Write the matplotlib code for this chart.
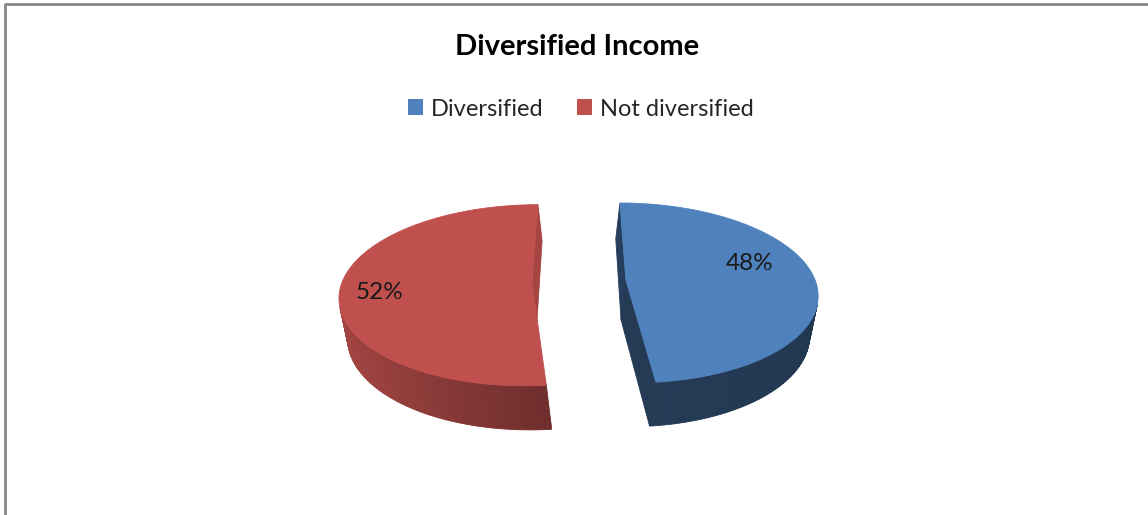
import numpy as np
import matplotlib
matplotlib.use('Agg')
import matplotlib.pyplot as plt
from matplotlib.patches import Polygon, Patch
from matplotlib.lines import Line2D

# data
categories = ['Diversified', 'Not diversified']
shares = [48.4, 51.6]
top_colors = ['#4F81BD', '#C0504D']
title = 'Diversified Income'

# look of the 3d pie (perspective camera)
R = 189.5            # px per radius at the pie centre
D = 6.12             # camera distance in radii
F = R * D
xc, yc = 579.0, 281.0
sinphi = 0.466
cosphi = np.sqrt(1 - sinphi ** 2)
h = 0.241            # thickness (radius units)
explode = 0.248
shear_k = 0.09
side_base = [0.46, 0.60]
side_slope = [0.04, 0.27]
wall_shade = [[0.48, 0.45], [0.86, 0.86]]
label_r = [0.675, 0.795]
label_dtheta = [-6.6, -10.4]

plt.rcParams['font.family'] = ['Lato', 'DejaVu Sans']

fig = plt.figure(figsize=(11.48, 5.15), dpi=100)
ax = fig.add_axes([0, 0, 1, 1])
ax.set_xlim(0, 1148)
ax.set_ylim(515, 0)
ax.axis('off')


def shade(color, f):
    rgb = np.array(matplotlib.colors.to_rgb(color))
    return tuple(np.clip(rgb * f, 0, 1))


def signed_area(pts):
    x = pts[:, 0]
    y = pts[:, 1]
    return 0.5 * np.sum(x * np.roll(y, -1) - np.roll(x, -1) * y)


def to_px(q):
    return np.column_stack([xc + q[:, 0], yc - q[:, 1]])


fracs = np.array(shares, dtype=float) / sum(shares)
edges = np.concatenate([[0], np.cumsum(fracs) * 360])

for i, col in enumerate(top_colors):
    ta, tb = edges[i], edges[i + 1]
    tm = np.radians((ta + tb) / 2)
    ox, oy = explode * np.sin(tm), explode * np.cos(tm)
    shear = -shear_k * np.sin(tm)

    def proj(X, Y, Z):
        Xa = X + ox + (h - Z) * shear
        Ya = Y + oy
        d = D + Ya * cosphi - (Z - h) * sinphi
        return np.array([Xa * F / d, (Ya * sinphi + (Z - h) * cosphi) * F / d])

    def rim(t, Z):
        t = np.radians(t)
        return proj(np.sin(t), np.cos(t), Z)

    faces = []
    # outer curved wall
    ts = np.linspace(ta, tb, int(tb - ta) + 2)
    for t1, t2 in zip(ts[:-1], ts[1:]):
        q = np.array([rim(t1, h), rim(t2, h), rim(t2, 0), rim(t1, 0)])
        if signed_area(q) > 0:
            tmid = np.radians((t1 + t2) / 2)
            f = side_base[i] + side_slope[i] * (-np.sin(tmid))
            faces.append((np.cos(tmid), q, shade(col, f)))
    # radial walls
    c_top, c_bot = proj(0, 0, h), proj(0, 0, 0)
    qa = np.array([c_top, rim(ta, h), rim(ta, 0), c_bot])
    qb = np.array([c_top, c_bot, rim(tb, 0), rim(tb, h)])
    for q, t, f in [(qa, ta, wall_shade[i][0]), (qb, tb, wall_shade[i][1])]:
        if signed_area(q) > 0:
            faces.append((np.cos(np.radians(t)) / 2, q, shade(col, f)))

    faces.sort(key=lambda x: -x[0])
    for _, q, c in faces:
        ax.add_patch(Polygon(to_px(q), closed=True, facecolor=c, edgecolor=c, lw=0.6))

    # top face
    tt = np.linspace(tb, ta, 240)
    top = np.array([c_top] + [rim(t, h) for t in tt])
    ax.add_patch(Polygon(to_px(top), closed=True, facecolor=col, edgecolor=col, lw=0.6))

    # percentage label
    tl = np.radians((ta + tb) / 2 + label_dtheta[i])
    lp = to_px(proj(label_r[i] * np.sin(tl), label_r[i] * np.cos(tl), h)[None, :])[0]
    ax.text(lp[0], lp[1], f'{shares[i]:.0f}%', fontsize=17.5,
            color='#1a1a1a', ha='center', va='baseline')

# title + legend
fig.text(577 / 1148, 1 - 55 / 515, title, fontsize=21, fontweight='bold',
         color='black', ha='center', va='baseline')
handles = [Patch(facecolor=c, edgecolor='none') for c in top_colors]
fig.legend(handles, categories, loc='center', ncol=2, frameon=False,
           bbox_to_anchor=(581 / 1148, 1 - 109 / 515), fontsize=17,
           handlelength=0.64, handleheight=0.64, handletextpad=0.34,
           columnspacing=1.4, labelcolor='#262626')

# chart border (top and left visible)
fig.add_artist(Line2D([5 / 1148, 5 / 1148, 1], [0, 1 - 4 / 515, 1 - 4 / 515],
                      transform=fig.transFigure, color='#868686', lw=2.0))

fig.savefig('out.png', dpi=100)
